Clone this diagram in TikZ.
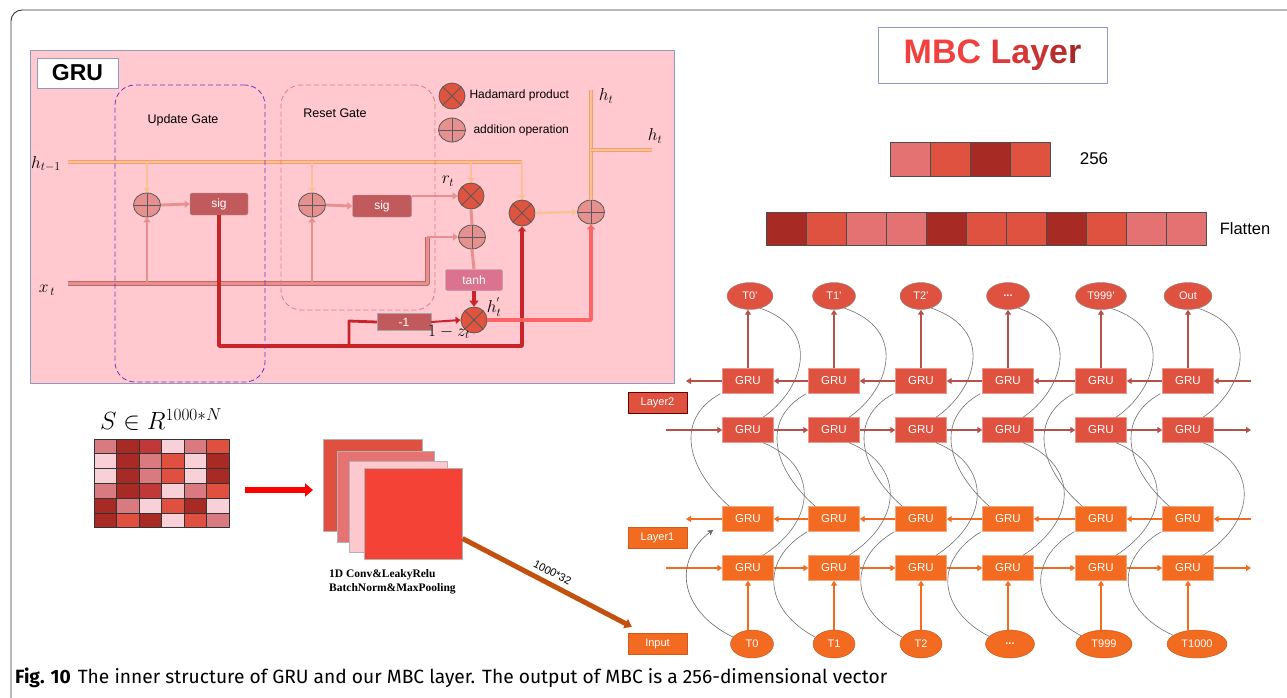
\documentclass[tikz,border=0pt]{standalone}
\usepackage{fontspec}
\setmainfont{Liberation Sans}
\newfontfamily\timesb{Liberation Serif}
\newfontfamily\capfont{Fira Sans}
\usetikzlibrary{arrows.meta,shapes.geometric,calc}

\definecolor{gpink}{HTML}{FFC9CF}
\definecolor{panelb}{HTML}{8E9CC0}
\definecolor{hfill}{HTML}{FDBF95}
\definecolor{hedge}{HTML}{EFA070}
\definecolor{xfill}{HTML}{E89090}
\definecolor{xedge}{HTML}{BF6666}
\definecolor{sigc}{HTML}{C05A5C}
\definecolor{tanhc}{HTML}{DA7290}
\definecolor{hadc}{HTML}{E0533F}
\definecolor{plusc}{HTML}{E69090}
\definecolor{dred}{HTML}{C8252B}
\definecolor{pred}{HTML}{FF6464}
\definecolor{ugpurple}{HTML}{7A2FC0}
\definecolor{rgpink}{HTML}{E07A8A}
\definecolor{ltwo}{HTML}{E05240}
\definecolor{ltwoline}{HTML}{B5504A}
\definecolor{lone}{HTML}{F26B21}
\definecolor{cP}{HTML}{E47272}
\definecolor{cR}{HTML}{E05240}
\definecolor{cD}{HTML}{A82A25}
\definecolor{mL}{HTML}{F8D0D8}
\definecolor{mP}{HTML}{D97A80}
\definecolor{mD}{HTML}{A82A25}
\definecolor{mR}{HTML}{E05040}
\definecolor{mM}{HTML}{C03838}
\definecolor{cvA}{HTML}{E05040}
\definecolor{cvB}{HTML}{E57373}
\definecolor{cvC}{HTML}{FDC8CE}
\definecolor{cvD}{HTML}{F44336}
\definecolor{convarr}{HTML}{C2500F}
\definecolor{curvc}{HTML}{707070}

\tikzset{
  had/.style={ellipse, draw=black!65, fill=hadc, minimum width=26pt, minimum height=26pt, inner sep=0pt, line width=0.8pt,
    path picture={\draw[black!65,line width=0.8pt] (path picture bounding box.north west) -- (path picture bounding box.south east)
      (path picture bounding box.north east) -- (path picture bounding box.south west);}},
  plusn/.style={ellipse, draw=black!65, fill=plusc, minimum width=27pt, minimum height=24pt, inner sep=0pt, line width=0.8pt,
    path picture={\draw[black!65,line width=0.8pt] (path picture bounding box.north) -- (path picture bounding box.south)
      (path picture bounding box.east) -- (path picture bounding box.west);}},
  opbox/.style={rectangle, rounded corners=2pt, draw=black!35, text=white, font=\fontsize{12}{12}\selectfont, inner sep=0pt},
  hband/.style={draw=hedge, line width=4.5pt, postaction={draw=hfill, line width=2.6pt}},
  xband/.style={draw=xedge, line width=5pt, postaction={draw=xfill, line width=3pt}},
  harr/.style={draw=hfill, line width=2.4pt, -{Triangle[length=5pt,width=7pt]}},
  xarr/.style={draw=xfill, line width=2.8pt, -{Triangle[length=5pt,width=7pt]}},
  xline/.style={draw=xfill, line width=3pt},
  gatelbl/.style={font=\fontsize{12.5}{12.5}\selectfont},
  mathlbl/.style={font=\fontsize{18}{18}\selectfont, inner sep=0pt},
  gbtwo/.style={rectangle, fill=ltwo, draw=ltwo!60!white, minimum width=51pt, minimum height=25pt, inner sep=0pt, text=white, font=\fontsize{11.5}{11.5}\selectfont},
  gbone/.style={rectangle, fill=lone, draw=lone!60!white, minimum width=51pt, minimum height=25pt, inner sep=0pt, text=white, font=\fontsize{11.5}{11.5}\selectfont},
  elltwo/.style={ellipse, fill=ltwo, draw=black!45, minimum height=27pt, inner sep=0pt, text=white, font=\fontsize{11}{11}\selectfont},
  ellone/.style={ellipse, fill=lone, draw=lone!80!black, minimum height=28pt, inner sep=0pt, text=white, font=\fontsize{11}{11}\selectfont},
  ltwoarr/.style={draw=ltwoline, line width=2pt, -{Triangle[length=5pt,width=6pt]}},
  lonearr/.style={draw=lone, line width=2pt, -{Triangle[length=5pt,width=6pt]}},
  curv/.style={draw=curvc, line width=0.6pt},
  lyrlbl/.style={rectangle, minimum width=59pt, minimum height=21pt, inner sep=0pt, text=white, font=\fontsize{11}{11}\selectfont},
  cell/.style={rectangle, draw=black!70, line width=0.6pt, minimum width=40pt, minimum height=34pt, inner sep=0pt},
  mcell/.style={rectangle, draw=black!80, line width=1pt, minimum width=22.5pt, minimum height=14.8pt, inner sep=0pt},
  convsq/.style={rectangle, draw=black!30, line width=0.5pt, inner sep=0pt, anchor=north west}
}

\begin{document}
\begin{tikzpicture}[x=1pt,y=-1pt,line join=round]
\useasboundingbox (0,0) rectangle (1287,697);
\fill[white] (0,0) rectangle (1287,697);
\draw[black!80, line width=0.9pt, rounded corners=11pt] (11,720) -- (11,10) -- (1310,10);

% ---------------- GRU panel ----------------
\node[draw=panelb, fill=gpink, line width=0.8pt, minimum width=644pt, minimum height=333pt, inner sep=0pt] (panel) at (352,216.5) {};
\node[draw=panelb, fill=white, line width=0.8pt, minimum width=81pt, minimum height=30pt, inner sep=0pt, font=\bfseries\fontsize{23}{23}\selectfont] (grut) at (77.5,73) {GRU};

\node[gatelbl] (ugt) at (183,120) {Update Gate};
\node[gatelbl] (rgt) at (335,113) {Reset Gate};

\node[plusn] (PU) at (147,205) {};
\node[opbox, fill=sigc, minimum width=58pt, minimum height=22pt] (SU) at (219,204) {sig};
\node[plusn] (PR) at (312,205) {};
\node[opbox, fill=sigc, minimum width=59pt, minimum height=22pt] (SR) at (382,206) {sig};
\node[had] (HR) at (471,196) {};
\node[plusn] (PC) at (472,237) {};
\node[opbox, fill=tanhc, minimum width=57pt, minimum height=21pt] (TH) at (474,280) {tanh};
\node[had] (HH) at (474,320) {};
\node[opbox, fill=sigc, rounded corners=0pt, minimum width=54pt, minimum height=17pt] (M1) at (404,322) {-1};
\node[had] (HZ) at (522,213) {};
\node[plusn] (PF) at (591,212) {};
\node[had] (LH) at (452,96) {};
\node[plusn] (LP) at (452,130) {};
\node[anchor=west, font=\fontsize{12}{12}\selectfont] (LHt) at (466,95) {Hadamard product};
\node[anchor=west, font=\fontsize{12}{12}\selectfont] (LPt) at (470,130) {addition operation};

\node[mathlbl] (lh) at (46,164) {$h_{t-1}$};
\node[mathlbl] (lx) at (47,290) {$x_{\,t}$};
\node[mathlbl] (lr) at (448,181) {$r_{t}$};
\node[mathlbl] (lhp) at (494,307) {$h_{t}^{'}$};
\node[mathlbl] (lz) at (449,332) {$1-z_{t}$};
\node[mathlbl] (lht1) at (606,96) {$h_{t}$};
\node[mathlbl] (lht2) at (655,136) {$h_{t}$};

\coordinate (hs) at (68,162);
\coordinate (he) at (522,162);
\draw[hband] (hs) -- (he);
\draw[harr] (PU.north |- hs) -- (PU.north);
\draw[harr] (PR.north |- hs) -- (PR.north);
\draw[harr] (HR.north |- hs) -- (HR.north);
\draw[harr] (he) -- (HZ.north);

\coordinate (xs) at (68,283);
\coordinate (xk) at (427,237);
\draw[xband] (xs) -- (427,283) -- (xk);
\draw[xarr] (xk) -- (PC.west);
\draw[xarr] (PU.south |- xs) -- (PU.south);
\draw[xarr] (PR.south |- xs) -- (PR.south);
\draw[xarr] (PU.east) -- (SU.west);
\draw[xarr] (PR.east) -- (SR.west);
\draw[xarr] (SR.east |- HR.west) -- (HR.west);
\draw[xline] (HR.south) -- (PC.north);
\draw[xline] (PC.south) -- (TH.north);
\draw[dred, line width=3.5pt, -{Triangle[length=6pt,width=9pt]}] (TH.south) -- (HH.north);

\coordinate (zc) at (219,346);
\coordinate (zb) at (349,346);
\draw[dred, line width=3.8pt, -{Triangle[length=5pt,width=8pt]}] (SU.south) -- (zc) -- (HZ.south |- zc) -- (HZ.south);
\draw[dred, line width=2.8pt] (zb) -- (349,321) -- (M1.west);
\draw[dred, line width=2pt, -{Triangle[length=5pt,width=7pt]}] (M1.east) -- (HH.west);
\draw[pred, line width=3.5pt, -{Triangle[length=5pt,width=8pt]}] (HH.east) -- (PF.south |- HH.east) -- (PF.south);
\draw[harr] (HZ.east) -- (PF.west);
\coordinate (ht1) at (591,90);
\coordinate (ht2a) at (591,150);
\coordinate (ht2) at (652,150);
\draw[hband] (PF.north) -- (ht1);
\draw[hband] (ht2a) -- (ht2);

\node[draw=ugpurple, dashed, dash pattern=on 5pt off 3pt, line width=0.8pt, rounded corners=20pt, minimum width=150pt, minimum height=297pt, inner sep=0pt] (ug) at (190,233.5) {};
\node[draw=rgpink, dashed, dash pattern=on 5pt off 3pt, line width=0.8pt, rounded corners=20pt, minimum width=154pt, minimum height=225pt, inner sep=0pt] (rg) at (358,197.5) {};

% ---------------- MBC title and bars ----------------
\node[draw=panelb, fill=white, line width=0.8pt, minimum width=229pt, minimum height=56pt, inner sep=0pt, font=\bfseries\fontsize{34}{34}\selectfont] (mbc) at (992.5,55)
 {\textcolor[HTML]{F2403F}{MBC }\textcolor[HTML]{E23A3A}{L}\textcolor[HTML]{D63737}{a}\textcolor[HTML]{C83333}{y}\textcolor[HTML]{B82E2E}{e}\textcolor[HTML]{A52828}{r}};

\foreach \i/\c in {0/cP,1/cR,2/cD,3/cR}{
  \node[cell, fill=\c] (b-\i) at ({910+40*\i},159) {};
}
\node[font=\fontsize{17}{17}\selectfont] (n256) at (1094,159) {256};

\foreach \i/\c in {0/cD,1/cR,2/cP,3/cP,4/cD,5/cR,6/cR,7/cD,8/cR,9/cP,10/cP}{
  \node[cell, fill=\c, minimum height=33pt] (f-\i) at ({786+40*\i},228.5) {};
}
\node[font=\fontsize{16.5}{16.5}\selectfont] (nfl) at (1245,229) {Flatten};

% ---------------- input matrix ----------------
\node[font=\fontsize{24}{24}\selectfont, inner sep=0pt] (slbl) at (161,420) {$S\in R^{1000*N}$};
\foreach \r/\row in {0/{mP,mD,mM,mL,mP,mR},1/{mL,mD,mP,mR,mL,mD},2/{mL,mD,mP,mR,mL,mD},3/{mP,mD,mM,mL,mP,mR},4/{mD,mP,mL,mR,mD,mL},5/{mD,mR,mD,mL,mR,mP}}{
  \foreach \c [count=\k from 0] in \row {
    \node[mcell, fill=\c] (m-\r-\k) at ({105.25+22.5*\k},{446.4+14.8*\r}) {};
  }
}
\coordinate (ra) at (245,490);
\coordinate (rb) at (313,490);
\draw[red, line width=6pt, -{Triangle[length=8pt,width=13pt]}] (ra) -- (rb);

% conv stack
\node[convsq, fill=cvA, minimum width=99pt, minimum height=92pt] (cv1) at (323,439) {};
\node[convsq, fill=cvB, minimum width=97pt, minimum height=91pt] (cv2) at (337,451) {};
\node[convsq, fill=cvC, minimum width=98pt, minimum height=91pt] (cv3) at (349,461) {};
\node[convsq, fill=cvD, minimum width=98pt, minimum height=91pt] (cv4) at (364,468) {};
\node[anchor=west, font=\timesb\bfseries\fontsize{11.5}{14}\selectfont, align=left, inner sep=0pt] (cvt) at (329,582) {1D Conv\&LeakyRelu\\BatchNorm\&MaxPooling};

% ---------------- layer labels ----------------
\node[lyrlbl, fill=ltwo, draw=black!60!red] (lay2) at (657.5,402.5) {Layer2};
\node[lyrlbl, fill=lone, draw=lone!85!black] (lay1) at (657.5,537.5) {Layer1};
\node[lyrlbl, fill=lone, draw=lone!85!black] (inp) at (657.5,643.5) {Input};

\draw[convarr, line width=5pt, -{Triangle[length=7pt,width=10pt]}] ([yshift=21pt]cv4.south east) -- node[sloped, above=5pt, inner sep=0pt, font=\fontsize{11}{11}\selectfont, text=black] {1000*32} ([xshift=4pt,yshift=6pt]inp.north west);

% ---------------- bidirectional GRU layers ----------------
\foreach \i/\cx/\tx/\tw/\tl/\bx/\bw/\bl in {0/748/750/46/T0’/752/43/T0, 1/834/834/43/T1’/834/42/T1, 2/921/921/42/T2’/921/42/T2, 3/1008/1008/43/\textbf{...}/1010/49/\textbf{...}, 4/1101/1101/51/T999’/1104/56/T999, 5/1188/1188/48/Out/1197/60/T1000}{
  \node[gbtwo] (LtA-\i) at (\cx,381) {GRU};
  \node[gbtwo] (LtB-\i) at (\cx,430) {GRU};
  \node[gbone] (LoA-\i) at (\cx,519) {GRU};
  \node[gbone] (LoB-\i) at (\cx,568) {GRU};
  \node[elltwo, minimum width=\tw pt] (top-\i) at (\tx,296) {\tl};
  \node[ellone, minimum width=\bw pt] (bot-\i) at (\bx,644) {\bl};
  \draw[draw=ltwoline, line width=2pt, -{Triangle[length=5pt,width=6pt]}] (LtA-\i.north) -- (LtA-\i.north |- top-\i.south);
  \draw[draw=lone, line width=2.2pt, -{Triangle[length=5pt,width=6pt]}] (LoB-\i.south |- bot-\i.north) -- (LoB-\i.south);
}

\foreach \i [evaluate=\i as \j using int(\i-1)] in {1,...,5}{
  \draw[ltwoarr] (LtA-\i.west) -- (LtA-\j.east);
  \draw[ltwoarr] (LtB-\j.east) -- (LtB-\i.west);
  \draw[lonearr] (LoA-\i.west) -- (LoA-\j.east);
  \draw[lonearr] (LoB-\j.east) -- (LoB-\i.west);
}
\coordinate (tAr) at (1251,381); \coordinate (tAl) at (686,381);
\coordinate (tBl) at (666,430);  \coordinate (tBr) at (1251,430);
\coordinate (oAr) at (1251,519); \coordinate (oAl) at (686,519);
\coordinate (oBl) at (666,568);  \coordinate (oBr) at (1251,568);
\draw[ltwoarr] (tAr) -- (LtA-5.east);
\draw[ltwoarr] (LtA-0.west) -- (tAl);
\draw[ltwoarr] (tBl) -- (LtB-0.west);
\draw[ltwoarr] (LtB-5.east) -- (tBr);
\draw[lonearr] (oAr) -- (LoA-5.east);
\draw[lonearr] (LoA-0.west) -- (oAl);
\draw[lonearr] (oBl) -- (LoB-0.west);
\draw[lonearr] (LoB-5.east) -- (oBr);

\foreach \i/\cx in {0/748,1/834,2/921,3/1008,4/1101,5/1188}{
  \draw[curv] (top-\i.-50) .. controls ({\cx+75},330) and ({\cx+55},390) .. ([xshift=15pt]LtB-\i.north);
  \draw[curv] ([xshift=-2pt]LtA-\i.south west) .. controls ({\cx-75},420) and ({\cx-60},470) .. ([xshift=7pt]LoA-\i.north west);
  \draw[curv] ([xshift=15pt]LtB-\i.south) .. controls ({\cx+70},465) and ({\cx+70},520) .. ([xshift=15pt]LoB-\i.north);
}
\foreach \i/\cx in {1/834,2/921,3/1008,4/1101,5/1188}{
  \draw[curv] (bot-\i.160) .. controls ({\cx-70},610) and ({\cx-75},560) .. ([xshift=-1pt]LoA-\i.south west);
}
\draw[curv, -{Stealth[length=6pt,width=6pt]}, draw=black!60] (bot-0.160) .. controls (678,610) and (673,560) .. ([xshift=-9pt,yshift=2pt]LoA-0.south west);

% ---------------- caption ----------------
\node[anchor=west, inner sep=0pt, font=\capfont\fontsize{19.2}{19.2}\selectfont] (cap) at (15,678)
 {\textbf{Fig. 10}\hspace{7pt}The inner structure of GRU and our MBC layer. The output of MBC is a 256-dimensional vector};
\end{tikzpicture}
\end{document}
